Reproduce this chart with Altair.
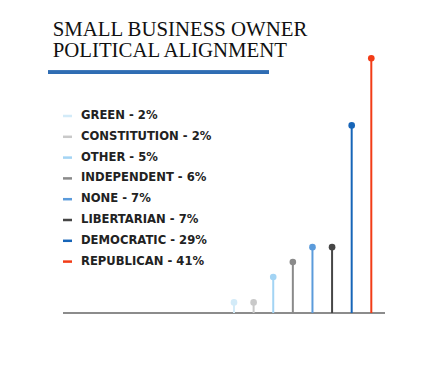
import altair as alt
import pandas as pd

categories = ["GREEN", "CONSTITUTION", "OTHER", "INDEPENDENT", "NONE",
              "LIBERTARIAN", "DEMOCRATIC", "REPUBLICAN"]
labels = ["GREEN - 2%", "CONSTITUTION - 2%", "OTHER  - 5%", "INDEPENDENT - 6%",
          "NONE - 7%", "LIBERTARIAN - 7%", "DEMOCRATIC - 29%", "REPUBLICAN - 41%"]
heights = [1.7, 1.7, 5.8, 8.2, 10.6, 10.6, 30.2, 41]
colors = ["#d3ebf8", "#c9c9c9", "#a3d4f4", "#8a8a8a", "#5b9bdb",
          "#464646", "#1765b8", "#f23c17"]
title_lines = ["SMALL BUSINESS OWNER", "POLITICAL ALIGNMENT"]

df = pd.DataFrame({"category": categories, "label": labels, "height": heights})
title_df = pd.DataFrame({"line": list(range(len(title_lines))), "text": title_lines})

color = alt.Color("category:N", scale=alt.Scale(domain=categories, range=colors), legend=None)
x = alt.X("category:N", sort=categories, axis=None,
          scale=alt.Scale(type="point", range=[226, 363.3], padding=0))
y = alt.Y("height:Q", axis=None, scale=alt.Scale(domain=[0, 41], range=[305, 50.3]))

base = alt.Chart(df)

stems = base.mark_rule(strokeWidth=2).encode(x=x, y=y, y2=alt.datum(0), color=color)
dots = base.mark_circle(size=44, opacity=1).encode(x=x, y=y, color=color)

axis_line = base.mark_rule(color="#8c8c8c", strokeWidth=2).encode(
    x=alt.value(55), x2=alt.value(377), y=alt.value(305))

ly = alt.Y("category:N", sort=categories, axis=None,
           scale=alt.Scale(type="point", range=[108, 253.6], padding=0))
legend_dash = base.mark_rule(strokeWidth=2.5).encode(
    x=alt.value(55), x2=alt.value(64), y=ly, color=color)
legend_text = base.mark_text(align="left", baseline="middle", font="DejaVu Sans",
                             fontWeight="bold", fontSize=11.6, color="#222222").encode(
    x=alt.value(73), y=ly, text="label:N")

title = alt.Chart(title_df).mark_text(align="left", baseline="alphabetic",
                                      font="Liberation Serif", fontSize=20.8,
                                      color="#111111").encode(
    x=alt.value(44.7),
    y=alt.Y("line:O", axis=None, scale=alt.Scale(type="point", range=[28, 48.7], padding=0)),
    text="text:N")

underline = base.mark_rule(color="#2f6db3", strokeWidth=3).encode(
    x=alt.value(40), x2=alt.value(261), y=alt.value(64.3))

chart = alt.layer(title, underline, legend_dash, legend_text, axis_line, stems, dots).resolve_scale(
    x="independent", y="independent", color="shared"
).properties(
    width=410, height=345, autosize=alt.AutoSizeParams(type="none"), padding=0,
    background="white"
).configure_view(strokeWidth=0)

chart.save("out.html", embed_options={"renderer": "svg", "actions": False})
